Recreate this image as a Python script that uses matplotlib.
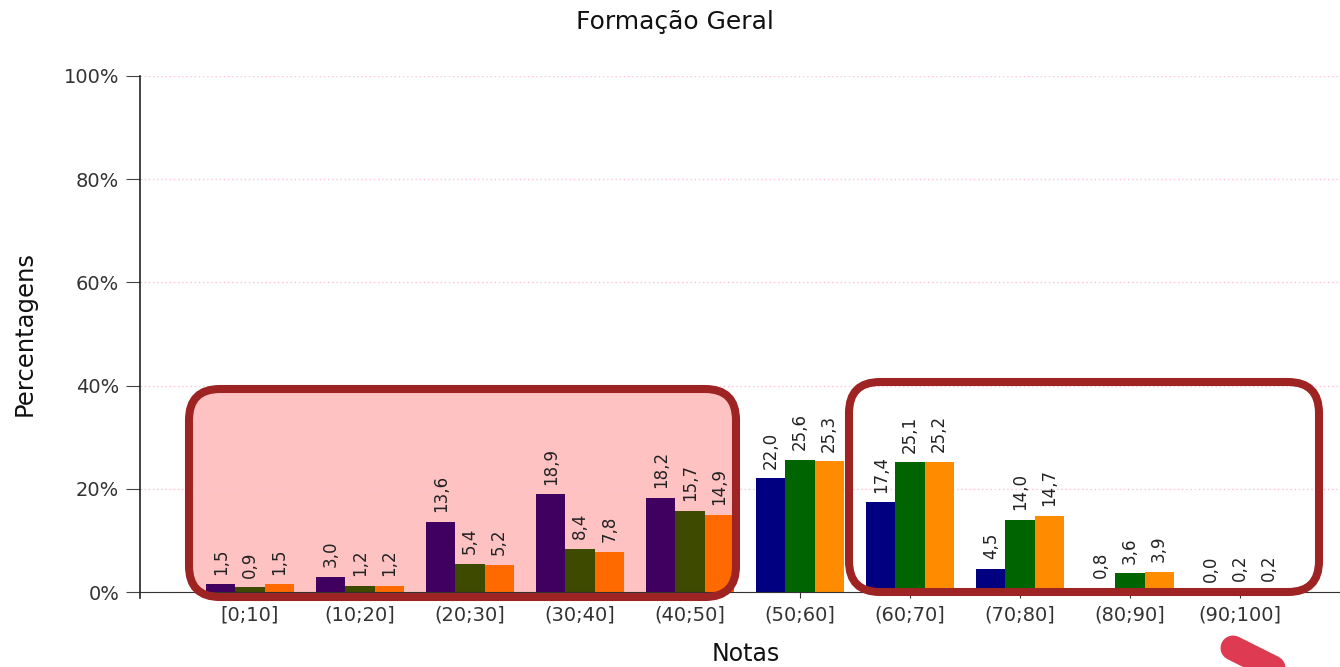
import matplotlib
matplotlib.use("Agg")
import matplotlib.pyplot as plt
from matplotlib.patches import FancyBboxPatch
from matplotlib.lines import Line2D

# data (percent of students per grade band)
notas = ["[0;10]", "(10;20]", "(20;30]", "(30;40]", "(40;50]",
         "(50;60]", "(60;70]", "(70;80]", "(80;90]", "(90;100]"]
serie_azul = [1.5, 3.0, 13.6, 18.9, 18.2, 22.0, 17.4, 4.5, 0.8, 0.0]
serie_verde = [0.9, 1.2, 5.4, 8.4, 15.7, 25.6, 25.1, 14.0, 3.6, 0.2]
serie_laranja = [1.5, 1.2, 5.2, 7.8, 14.9, 25.3, 25.2, 14.7, 3.9, 0.2]
y_ticks = [0, 20, 40, 60, 80, 100]

# colours: normal, and as seen under the pink highlight box (first 5 groups)
cores = ["#000080", "#006400", "#ff8c00"]
cores_realce = ["#400060", "#3d4a00", "#ff6a00"]
n_realce = 5

W, H = 1340, 667
fig = plt.figure(figsize=(W / 100, H / 100), dpi=100)
plt.rcParams['font.family'] = ['DejaVu Sans']

# axes placed in pixel terms
ax = fig.add_axes([140 / W, 68.8 / H, 1210 / W, 522.2 / H])
ax.set_xlim(-1, 10)
ax.set_ylim(-1.2, 100)

larg = 0.265
series = [serie_azul, serie_verde, serie_laranja]
for k, vals in enumerate(series):
    xs = [i + (k - 1) * larg for i in range(len(notas))]
    cols = [cores_realce[k] if i < n_realce else cores[k] for i in range(len(notas))]
    ax.bar(xs, vals, width=larg, color=cols, zorder=2, linewidth=0)
    for x, v in zip(xs, vals):
        ax.annotate(f"{v:.1f}".replace(".", ","), (x, v), xytext=(0, 7),
                    textcoords="offset points", rotation=90, ha="center",
                    va="bottom", fontsize=12, color="#222222", zorder=6)

# axes styling
ax.spines['top'].set_visible(False)
ax.spines['right'].set_visible(False)
ax.spines['bottom'].set_position(('data', 0))
ax.spines['bottom'].set_color('#333333')
ax.spines['left'].set_color('#222222')
ax.spines['left'].set_linewidth(1.2)
ax.set_xticks(range(len(notas)))
ax.set_xticklabels(notas)
ax.set_yticks(y_ticks)
ax.set_yticklabels([f"{t}%" for t in y_ticks])
ax.tick_params(axis='x', length=4, color='#333333', labelsize=14,
               labelcolor='#333333', pad=6)
ax.tick_params(axis='y', length=10, color='#444444', labelsize=14,
               labelcolor='#333333', pad=5)
ax.set_axisbelow(True)
ax.yaxis.grid(True, color='#ffc4d4', linestyle=(0, (1, 2)), linewidth=1)
ax.set_facecolor('none')

# highlight boxes (drawn in pixel space -> figure fraction)
def caixa(x0, y0, x1, y1, raio, **kw):
    return FancyBboxPatch((x0 / W, 1 - y1 / H), (x1 - x0) / W, (y1 - y0) / H,
                          boxstyle=f"round,pad=0,rounding_size={raio / W}",
                          mutation_aspect=W / H, transform=fig.transFigure,
                          clip_on=False, **kw)

ax.add_patch(caixa(189, 389, 736, 597, 31, facecolor="#ffc2c2",
                   edgecolor="none", zorder=0.3))
ax.add_patch(caixa(189, 389, 736, 597, 31, facecolor="none",
                   edgecolor="#9e2424", linewidth=5.8, zorder=5))
ax.add_patch(caixa(849, 382, 1319, 592, 31, facecolor="none",
                   edgecolor="#9e2424", linewidth=5.8, zorder=5))

# pen stroke at bottom right
fig.add_artist(Line2D([1233 / W, 1345 / W], [1 - 648 / H, 1 - 704 / H],
                      transform=fig.transFigure, color="#de3a52",
                      linewidth=18, solid_capstyle='round'))

fig.text(675 / W, 1 - 22 / H, "Formação Geral", ha="center", va="center",
         fontsize=18, color="#111111")
fig.text(746 / W, 1 - 654 / H, "Notas", ha="center", va="center",
         fontsize=17, color="#111111")
fig.text(25 / W, 1 - 334 / H, "Percentagens", ha="center", va="center",
         rotation=90, fontsize=17.5, color="#111111")

fig.savefig("out.png", dpi=100)
